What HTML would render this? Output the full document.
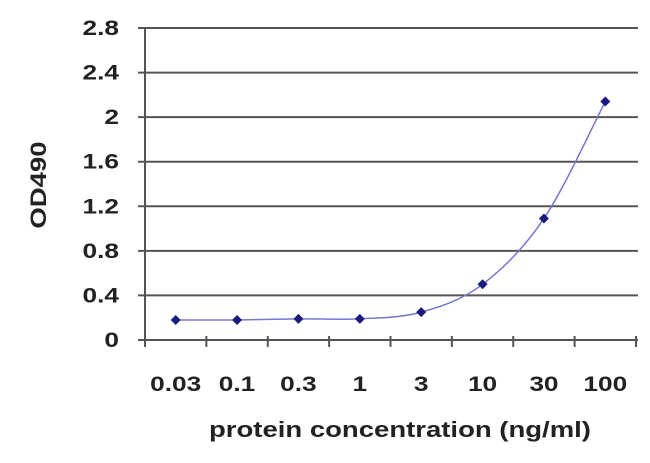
<!DOCTYPE html>
<html><head><meta charset="utf-8"><style>
body{margin:0;background:#fff;}
svg{display:block;font-family:"Liberation Sans",Arial,sans-serif;font-weight:bold;}
</style></head><body>
<svg id="chart" width="650" height="463">
<g id="grid"></g>
<g id="yt"></g>
<g id="xt"></g>
<path id="line" fill="none" stroke="#7777cc" stroke-width="1.5"></path>
<g id="pts"></g>
<text class="w" x="46" y="185" transform="rotate(-90 46 185)" text-anchor="middle" font-size="22" fill="#222">OD490</text>
<text class="w" x="400" y="437" text-anchor="middle" font-size="22" fill="#222">protein concentration (ng/ml)</text>
</svg>
<script>
const categories=["0.03","0.1","0.3","1","3","10","30","100"];
const values=[0.18,0.18,0.19,0.19,0.25,0.5,1.09,2.14];
const yTicks=[0,0.4,0.8,1.2,1.6,2,2.4,2.8];
const yTickLabels=["0","0.4","0.8","1.2","1.6","2","2.4","2.8"];
const NS="http://www.w3.org/2000/svg";
const L=145,R=636,T=28,B=340,yMax=2.8;
const cw=(R-L)/categories.length;
const x=i=>L+cw*(i+0.5);
const y=v=>B-(v/yMax)*(B-T);
function mk(t,a,p){const e=document.createElementNS(NS,t);for(const k in a)e.setAttribute(k,a[k]);p.appendChild(e);return e;}
const grid=document.getElementById('grid'),yt=document.getElementById('yt'),xt=document.getElementById('xt'),pts=document.getElementById('pts');
yTicks.forEach((v,i)=>{
 const g=mk('line',{x1:L-7,x2:R+2,y1:y(v),y2:y(v),stroke:'#555','stroke-width':2},grid);
 
 
 const t=mk('text',{x:L-26,y:y(v)+7,'text-anchor':'end','font-size':21,fill:'#222',class:'w'},yt);
 t.textContent=yTickLabels[i];
 
 
});
const ax=mk('line',{x1:L,x2:L,y1:T,y2:B+7,stroke:'#555','stroke-width':2},grid);


for(let i=0;i<=categories.length;i++){
 const tk=mk('line',{x1:L+cw*i,x2:L+cw*i,y1:B-4,y2:B+7,stroke:'#555','stroke-width':2},xt);
 
 
}
categories.forEach((c,i)=>{
 const t=mk('text',{x:x(i),y:391,'text-anchor':'middle','font-size':21,fill:'#222',class:'w'},xt);
 t.textContent=c;
 
 
});
document.querySelectorAll('text.w').forEach(t=>{
 const len=t.getComputedTextLength();
 t.setAttribute('textLength',len*1.25);
 t.setAttribute('lengthAdjust','spacingAndGlyphs');
});
const P=values.map((v,i)=>[x(i),y(v)]);
let d='M'+P[0][0]+','+P[0][1];
for(let i=0;i<P.length-1;i++){
 const p0=P[Math.max(0,i-1)],p1=P[i],p2=P[i+1],p3=P[Math.min(P.length-1,i+2)];
 const c1=[p1[0]+(p2[0]-p0[0])/6,p1[1]+(p2[1]-p0[1])/6],c2=[p2[0]-(p3[0]-p1[0])/6,p2[1]-(p3[1]-p1[1])/6];
 d+=' C'+c1+' '+c2+' '+p2;
}
document.getElementById('line').setAttribute('d',d);
P.forEach((p,i)=>{
 const m=mk('path',{d:`M${p[0]},${p[1]-5}L${p[0]+5},${p[1]}L${p[0]},${p[1]+5}L${p[0]-5},${p[1]}Z`,fill:'#1a1a80'},pts);
 
 
});
</script>
</body></html>
